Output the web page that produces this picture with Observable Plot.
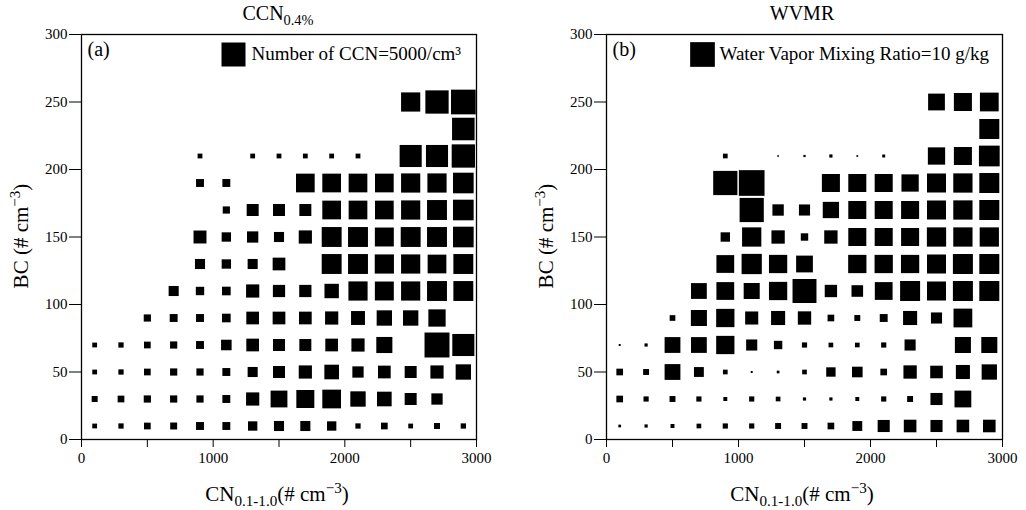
<!DOCTYPE html>
<html>
<head>
<meta charset="utf-8">
<script src="https://cdn.jsdelivr.net/npm/d3@7"></script>
<script src="https://cdn.jsdelivr.net/npm/@observablehq/plot@0.6"></script>
<style>
  html, body { margin: 0; padding: 0; background: #fff; }
  #root { position: relative; width: 1026px; height: 510px; font-family: "Liberation Serif", "DejaVu Serif", serif; color: #000; }
  .panel { position: absolute; top: 0; }
  .lbl { position: absolute; font-size: 21px; white-space: nowrap; transform: translate(-50%, -50%); }
  .ttl { position: absolute; font-size: 20px; white-space: nowrap; transform: translate(-50%, -50%); }
  .ylbl { position: absolute; font-size: 21px; white-space: nowrap; transform: translate(-50%, -50%) rotate(-90deg); }
  sub { font-size: 0.72em; vertical-align: -0.35em; line-height: 0; }
  sup { font-size: 0.72em; vertical-align: 0.5em; line-height: 0; }
</style>
</head>
<body>
<div id="root"></div>
<script>
// ---- data ----
const cnBins = [100, 300, 500, 700, 900, 1100, 1300, 1500, 1700, 1900, 2100, 2300, 2500, 2700, 2900];
const bcBins = [10, 30, 50, 70, 90, 110, 130, 150, 170, 190, 210, 230, 250];
const xTicks = [0, 500, 1000, 1500, 2000, 2500, 3000];
const yTicks = [0, 50, 100, 150, 200, 250, 300];
const _ = null;

// Number of CCN (0.4%) per cm^3, one row per BC bin (10..250), columns = CN bins
const ccnRows = [
  [1000,1100,1400,1450,1650,1650,1950,2100,2100,1950,1100,1400,1000,1250,1100],
  [1250,1400,1500,1500,1500,1650,2750,3500,3750,3900,3200,3050,2500,2350,_],
  [1000,1100,1400,1500,1500,1650,2100,2500,2750,3050,2350,2650,2500,2750,3200],
  [1000,1100,1400,1500,1650,2200,2650,2500,2500,2650,2750,3350,_,5200,4600],
  [_,_,1500,1650,1650,1800,2650,2650,2650,2750,2900,3200,3200,3600,_],
  [_,_,_,2100,1750,1800,2750,2550,2550,3000,4000,3950,4000,4150,4150],
  [_,_,_,_,2100,1950,2100,2650,_,4150,4150,4000,4000,3900,4150],
  [_,_,_,_,2700,1950,2350,2100,2750,4150,4150,3950,4150,4150,4300],
  [_,_,_,_,_,1500,2500,2500,2500,3900,3900,3900,4000,4150,4300],
  [_,_,_,_,1650,1650,_,_,3900,3900,3900,3900,4000,4000,4300],
  [_,_,_,_,1000,_,1000,1000,1000,1000,1000,_,4600,4600,4850],
  [_,_,_,_,_,_,_,_,_,_,_,_,_,_,4700],
  [_,_,_,_,_,_,_,_,_,_,_,_,4000,4850,5150]
];

// Water vapor mixing ratio (g/kg)
const wvmrRows = [
  [1.1,1.3,1.6,1.9,2.1,2.1,2.4,2.4,2.7,4.0,4.9,5.1,4.9,5.1,5.1],
  [2.7,2.1,2.4,2.1,1.6,2.1,1.9,1.3,1.3,1.6,2.1,2.4,4.9,6.8,_],
  [2.7,2.4,6.4,4.0,1.9,0.8,1.1,1.9,3.8,4.3,2.7,5.4,5.1,5.7,6.2],
  [0.8,1.3,6.4,6.4,7.4,4.5,3.4,2.1,1.9,1.9,2.1,4.5,_,6.5,6.5],
  [_,_,2.3,6.5,7.4,5.3,5.7,5.4,2.7,2.4,3.2,5.7,4.5,7.6,_],
  [_,_,_,6.4,7.2,6.5,7.4,9.7,5.0,4.7,7.2,8.1,7.7,8.1,8.1],
  [_,_,_,_,7.2,8.2,7.4,6.8,_,7.4,7.4,7.4,7.7,8.1,8.1],
  [_,_,_,_,3.8,7.8,5.4,3.0,5.4,7.3,7.3,7.3,7.8,7.8,7.8],
  [_,_,_,_,_,9.8,4.6,4.5,6.6,7.3,7.3,7.3,7.7,7.8,8.1],
  [_,_,_,_,9.8,10.4,_,_,7.3,7.3,7.3,7.0,7.7,7.8,8.1],
  [_,_,_,_,1.9,_,0.7,0.9,1.3,0.7,1.2,_,7.0,7.3,8.4],
  [_,_,_,_,_,_,_,_,_,_,_,_,_,_,8.1],
  [_,_,_,_,_,_,_,_,_,_,_,_,6.8,7.3,7.6]
];

const legendA = { value: 5000, text: "Number of CCN=5000/cm³", tag: "(a)" };
const legendB = { value: 10, text: "Water Vapor Mixing Ratio=10 g/kg", tag: "(b)" };

function flatten(rows) {
  const out = [];
  rows.forEach((row, i) => row.forEach((v, j) => {
    if (v != null) out.push({ cn: cnBins[j], bc: bcBins[i], v });
  }));
  return out;
}

function panel({ rows, legend, maxSide, left, marginLeft, marginRight, legendDx, textDx }) {
  const data = flatten(rows);
  const sq = Math.sqrt(Math.PI);
  const chart = Plot.plot({
    width: 513,
    height: 510,
    marginTop: 34,
    marginBottom: 71,
    marginLeft,
    marginRight,
    style: { fontFamily: '"Liberation Serif", serif', fontSize: "15px", color: "#000", background: "#fff", overflow: "visible" },
    x: { domain: [0, 3000] },
    y: { domain: [0, 300] },
    r: { type: "linear", domain: [0, legend.value], range: [0, maxSide / sq] },
    marks: [
      Plot.axisX({ ticks: xTicks, tickFormat: d => (d % 1000 === 0 ? String(d) : ""), tickSize: 8, tickPadding: 5, label: null, stroke: "#000", fontSize: 15 }),
      Plot.axisY({ ticks: yTicks, tickFormat: d => String(d), tickSize: 12, tickPadding: 2, label: null, stroke: "#000", fontSize: 15 }),
      Plot.frame({ stroke: "#000", strokeWidth: 1.3 }),
      Plot.dot(data, { x: "cn", y: "bc", r: "v", symbol: "square", fill: "#000", stroke: "none" }),
      Plot.dot([legend.value], { r: d => d, symbol: "square", fill: "#000", stroke: "none", frameAnchor: "top-left", dx: legendDx, dy: 20 }),
      Plot.text([legend.text], { text: d => d, frameAnchor: "top-left", lineAnchor: "middle", dx: textDx, dy: 19, textAnchor: "start", fontSize: 19, fill: "#000" }),
      Plot.text([legend.tag], { text: d => d, frameAnchor: "top-left", lineAnchor: "middle", dx: 6, dy: 15, textAnchor: "start", fontSize: 20, fill: "#000" })
    ]
  });
  chart.classList.add("panel");
  chart.style.left = left + "px";
  return chart;
}

const root = document.getElementById("root");
root.appendChild(panel({ rows: ccnRows, legend: legendA, maxSide: 24, left: 0, marginLeft: 81, marginRight: 37, legendDx: 152, textDx: 170 }));
root.appendChild(panel({ rows: wvmrRows, legend: legendB, maxSide: 24.7, left: 513, marginLeft: 93, marginRight: 24, legendDx: 96, textDx: 113 }));

// titles and axis labels (HTML for sub/superscripts)
const labels = [
  { cls: "ttl", x: 278, y: 13, html: "CCN<sub>0.4%</sub>" },
  { cls: "ttl", x: 802, y: 13, html: "WVMR" },
  { cls: "ylbl", x: 21, y: 236, html: "BC (# cm<sup>−3</sup>)" },
  { cls: "ylbl", x: 546, y: 236, html: "BC (# cm<sup>−3</sup>)" },
  { cls: "lbl", x: 277, y: 494, html: "CN<sub>0.1-1.0</sub>(# cm<sup>−3</sup>)" },
  { cls: "lbl", x: 802, y: 494, html: "CN<sub>0.1-1.0</sub>(# cm<sup>−3</sup>)" }
];
for (const l of labels) {
  const d = document.createElement("div");
  d.className = l.cls;
  d.style.left = l.x + "px";
  d.style.top = l.y + "px";
  d.innerHTML = l.html;
  root.appendChild(d);
}
</script>
</body>
</html>
